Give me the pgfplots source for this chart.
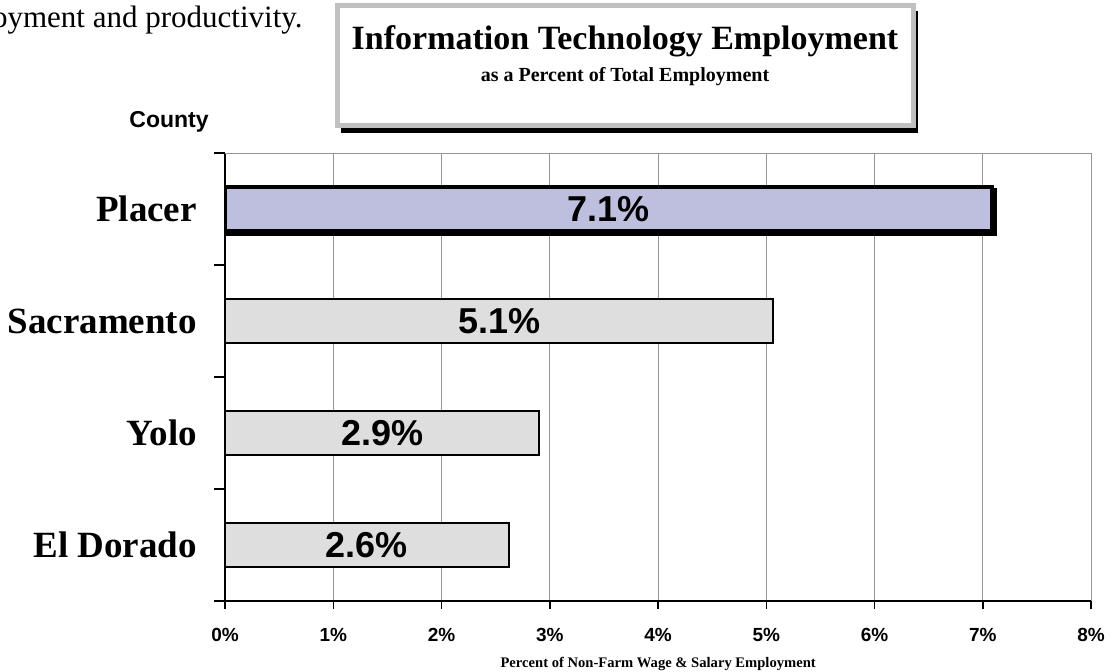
\documentclass[border=0pt]{standalone}
\usepackage{fontspec}
\setmainfont{Liberation Serif}
\setsansfont{Liberation Sans}
\usepackage{pgfplots}
\pgfplotsset{compat=1.18}
\definecolor{gridgray}{RGB}{150,150,150}
\definecolor{boxgray}{RGB}{192,192,192}
\definecolor{placerfill}{RGB}{190,190,222}
\definecolor{barfill}{RGB}{222,222,222}

\begin{document}
\begin{tikzpicture}[x=0.5pt,y=0.5pt]
\path[use as bounding box] (0,0) rectangle (1120,671);
\clip (0,0) rectangle (1120,671);

% cut-off sentence from the surrounding document
\node[anchor=base east, inner sep=0pt, font=\fontsize{15.5}{18}\selectfont] at (303,643) {oyment and productivity.};

% title box with drop shadow
\fill[black] (341,538) rectangle (918,660);
\draw[boxgray, line width=2.5pt, fill=white] (337.5,545.5) rectangle (913,665.5);
\node[anchor=base, inner sep=0pt, font=\bfseries\fontsize{17}{20}\selectfont] at (625,621) {Information Technology Employment};
\node[anchor=base, inner sep=0pt, font=\bfseries\fontsize{10}{12}\selectfont] at (625,589) {as a Percent of Total Employment};

\node[anchor=base, inner sep=0pt, font=\sffamily\bfseries\fontsize{11.5}{13}\selectfont] at (169,543) {County};

\begin{axis}[
    at={(208,62.5)}, anchor=south west,
    scale only axis, width=433pt, height=224pt,
    xmin=0, xmax=8, ymin=-0.5, ymax=3.5,
    axis lines=left,
    axis line style={-, black, line width=0.8pt},
    xtick={0,1,2,3,4,5,6,7,8},
    xticklabels={0\%,1\%,2\%,3\%,4\%,5\%,6\%,7\%,8\%},
    ytick={0,1,2,3},
    yticklabels={El Dorado,Yolo,Sacramento,Placer},
    minor ytick={-0.5,0.5,1.5,2.5,3.5},
    tick align=outside,
    major tick length=4pt,
    minor tick length=5.5pt,
    every major y tick/.style={draw=none},
    every minor y tick/.style={black, line width=0.8pt},
    every major x tick/.style={black, line width=0.8pt},
    xmajorgrids,
    major x grid style={gridgray, line width=0.5pt},
    xticklabel style={font=\sffamily\bfseries\fontsize{9.5}{11}\selectfont, anchor=north, inner sep=0pt, yshift=-9.5pt},
    yticklabel style={font=\bfseries\fontsize{18.5}{21}\selectfont, anchor=east, inner sep=0pt, xshift=-10pt},
    xlabel={Percent of Non-Farm Wage \& Salary Employment},
    xlabel style={font=\bfseries\fontsize{7.3}{9}\selectfont, at={(axis description cs:0.5,0)}, anchor=north, inner sep=0pt, yshift=-28pt},
]
\draw[gridgray, line width=0.5pt] (rel axis cs:0,1) -- (rel axis cs:1,1);

\addplot[xbar, bar width=0.39, bar shift=0pt, draw=black, line width=0.8pt, fill=barfill]
    coordinates {(2.62,0) (2.90,1) (5.06,2)};
% Placer: heavy outline with shadow
\addplot[xbar, bar width=0.40, bar shift=0pt, draw=black, fill=black, line width=2pt,
    transform canvas={xshift=1.5pt, yshift=-1.5pt}]
    coordinates {(7.08,3)};
\addplot[xbar, bar width=0.40, bar shift=0pt, draw=black, line width=2pt, fill=placerfill]
    coordinates {(7.08,3)};

% value labels, centred in each bar
\addplot[draw=none, mark=none, nodes near coords, point meta=explicit symbolic,
    every node near coord/.append style={anchor=center, inner sep=0pt, black,
        font=\sffamily\bfseries\fontsize{18}{20}\selectfont}]
    coordinates {(1.31,0)[2.6\%] (1.45,1)[2.9\%] (2.53,2)[5.1\%] (3.54,3)[7.1\%]};
\end{axis}
\end{tikzpicture}
\end{document}
